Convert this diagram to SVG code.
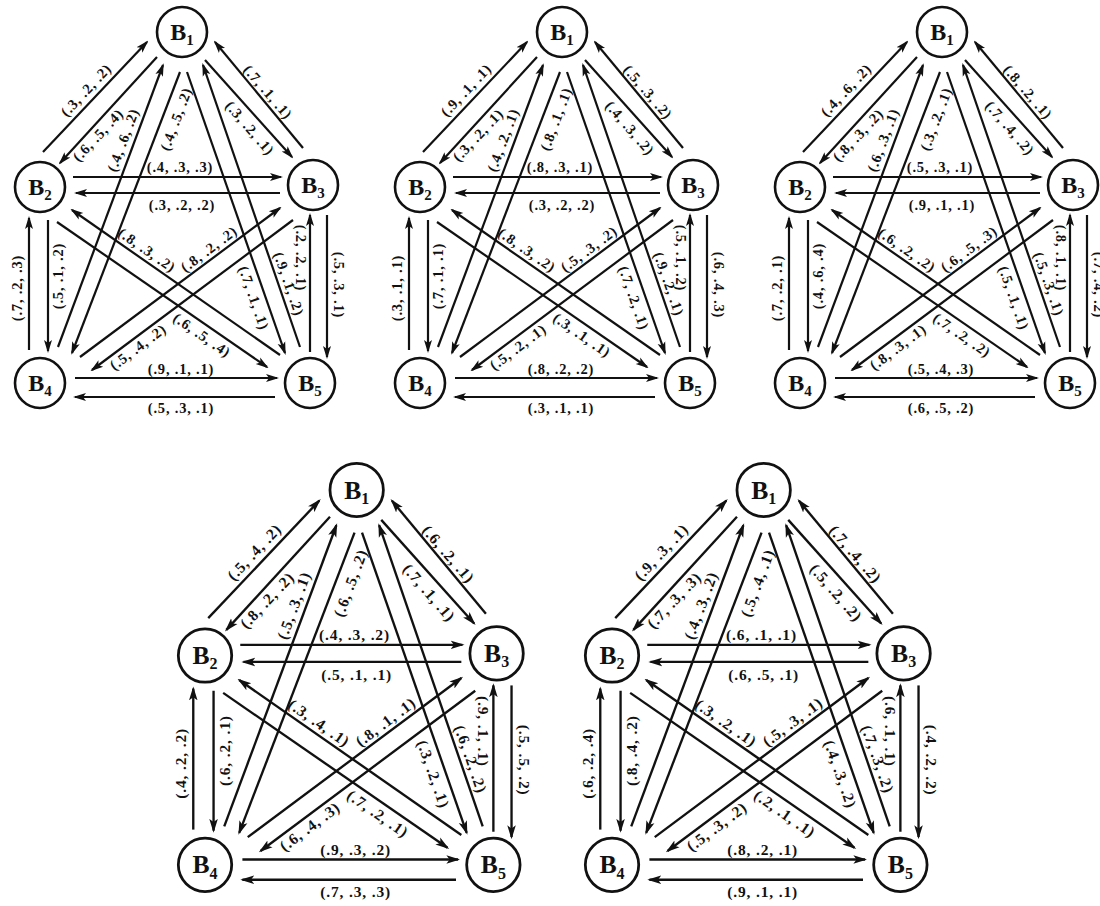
<svg xmlns="http://www.w3.org/2000/svg" width="1100" height="906" viewBox="0 0 1100 906">
<style>
.e{fill:none;stroke:#111;stroke-width:2.2;marker-end:url(#ah)}
.n circle{fill:#fff;stroke:#111;stroke-width:2.6}
.n text{font-family:"Liberation Serif",serif;font-weight:bold;font-size:24px;fill:#111;text-anchor:middle}
.n tspan{font-size:15px}
.l text{font-family:"Liberation Serif",serif;font-weight:bold;font-size:14.5px;letter-spacing:0.8px;fill:#111;text-anchor:middle;dominant-baseline:central}
</style>
<defs>
<marker id="ah" markerWidth="13" markerHeight="10" refX="11" refY="5" orient="auto" markerUnits="userSpaceOnUse">
<path d="M0,1 L13,5 L0,9 L3,5 z" fill="#111"/>
</marker>
</defs>
<rect width="1100" height="906" fill="#fff"/>

<!-- Graph 1 -->
<g id="graph1">
<g id="g1-connectors">
<path class="e" d="M43,152 L147,42"/><path class="e" d="M157,57 L60,163"/>
<path class="e" d="M205,60 L292,157"/><path class="e" d="M303,148 L215,42"/>
<path class="e" d="M73,177 L281,177"/><path class="e" d="M280,193 L76,193"/>
<path class="e" d="M29,350 L29,218"/><path class="e" d="M48,220 L48,351"/>
<path class="e" d="M310,352 L310,215"/><path class="e" d="M327,215 L327,357"/>
<path class="e" d="M75,378 L277,378"/><path class="e" d="M275,397 L75,397"/>
<path class="e" d="M58,347 L163,65"/><path class="e" d="M180,72 L72,353"/>
<path class="e" d="M187,72 L285,353"/><path class="e" d="M300,347 L203,65"/>
<path class="e" d="M57,222 L267,367"/><path class="e" d="M280,355 L72,210"/>
<path class="e" d="M80,357 L280,208"/><path class="e" d="M293,220 L92,370"/>
</g>
<g id="g1-labels" class="l">
<text x="86" y="90" transform="rotate(-46.6 86 90)">(.3, .2, .2)</text>
<text x="98" y="135" transform="rotate(-46.6 98 135)">(.6, .5, .4)</text>
<text x="268" y="92" transform="rotate(49 268 92)">(.7, .1, .1)</text>
<text x="250" y="128" transform="rotate(49 250 128)">(.3, .2, .1)</text>
<text x="123" y="140" transform="rotate(-69.6 123 140)">(.4, .6, .2)</text>
<text x="176" y="119" transform="rotate(-69.6 176 119)">(.4, .5, .2)</text>
<text x="180" y="167">(.4, .3, .3)</text>
<text x="182" y="205">(.3, .2, .2)</text>
<text x="147" y="250" transform="rotate(34.8 147 250)">(.8, .3, .2)</text>
<text x="209" y="249" transform="rotate(-36.7 209 249)">(.8, .2, .2)</text>
<text x="17" y="288" transform="rotate(-90 17 288)">(.7, .2, .3)</text>
<text x="58" y="276" transform="rotate(-90 58 276)">(.5, .1, .2)</text>
<text x="254" y="298" transform="rotate(70.8 254 298)">(.7, .1, .1)</text>
<text x="289" y="284" transform="rotate(70.8 289 284)">(.9, .1, .2)</text>
<text x="301" y="258" transform="rotate(90 301 258)">(.2, .2, .1)</text>
<text x="339" y="285" transform="rotate(90 339 285)">(.5, .3, .1)</text>
<text x="138" y="347" transform="rotate(-36.7 138 347)">(.5, .4, .2)</text>
<text x="202" y="335" transform="rotate(34.8 202 335)">(.6, .5, .4)</text>
<text x="181" y="369">(.9, .1, .1)</text>
<text x="181" y="408">(.5, .3, .1)</text>
</g>
<g id="g1-B1" class="n"><circle cx="182" cy="32" r="25"/><text x="182" y="40">B<tspan dy="5">1</tspan></text></g>
<g id="g1-B2" class="n"><circle cx="40" cy="187" r="25"/><text x="40" y="195">B<tspan dy="5">2</tspan></text></g>
<g id="g1-B3" class="n"><circle cx="313" cy="185" r="25"/><text x="313" y="193">B<tspan dy="5">3</tspan></text></g>
<g id="g1-B4" class="n"><circle cx="40" cy="383" r="25"/><text x="40" y="391">B<tspan dy="5">4</tspan></text></g>
<g id="g1-B5" class="n"><circle cx="310" cy="383" r="25"/><text x="310" y="391">B<tspan dy="5">5</tspan></text></g>
</g>

<!-- Graph 2 -->
<g id="graph2" transform="translate(380,0)">
<g id="g2-connectors">
<path class="e" d="M43,152 L147,42"/><path class="e" d="M157,57 L60,163"/>
<path class="e" d="M205,60 L292,157"/><path class="e" d="M303,148 L215,42"/>
<path class="e" d="M73,177 L281,177"/><path class="e" d="M280,193 L76,193"/>
<path class="e" d="M29,350 L29,218"/><path class="e" d="M48,220 L48,351"/>
<path class="e" d="M310,352 L310,215"/><path class="e" d="M327,215 L327,357"/>
<path class="e" d="M75,378 L277,378"/><path class="e" d="M275,397 L75,397"/>
<path class="e" d="M58,347 L163,65"/><path class="e" d="M180,72 L72,353"/>
<path class="e" d="M187,72 L285,353"/><path class="e" d="M300,347 L203,65"/>
<path class="e" d="M57,222 L267,367"/><path class="e" d="M280,355 L72,210"/>
<path class="e" d="M80,357 L280,208"/><path class="e" d="M293,220 L92,370"/>
</g>
<g id="g2-labels" class="l">
<text x="86" y="90" transform="rotate(-46.6 86 90)">(.9, .1, .1)</text>
<text x="98" y="135" transform="rotate(-46.6 98 135)">(.3, .2, .1)</text>
<text x="268" y="92" transform="rotate(49 268 92)">(.5, .3, .2)</text>
<text x="250" y="128" transform="rotate(49 250 128)">(.4, .3, .2)</text>
<text x="123" y="140" transform="rotate(-69.6 123 140)">(.4, .2, .1)</text>
<text x="176" y="119" transform="rotate(-69.6 176 119)">(.8, .1, .1)</text>
<text x="180" y="167">(.8, .3, .1)</text>
<text x="182" y="205">(.3, .2, .2)</text>
<text x="147" y="250" transform="rotate(34.8 147 250)">(.8, .3, .2)</text>
<text x="209" y="249" transform="rotate(-36.7 209 249)">(.5, .3, .2)</text>
<text x="17" y="288" transform="rotate(-90 17 288)">(.3, .1, .1)</text>
<text x="58" y="276" transform="rotate(-90 58 276)">(.7, .1, .1)</text>
<text x="254" y="298" transform="rotate(70.8 254 298)">(.7, .2, .1)</text>
<text x="289" y="284" transform="rotate(70.8 289 284)">(.9, .2, .1)</text>
<text x="301" y="258" transform="rotate(90 301 258)">(.5, .1, .2)</text>
<text x="339" y="285" transform="rotate(90 339 285)">(.6, .4, .3)</text>
<text x="138" y="347" transform="rotate(-36.7 138 347)">(.5, .2, .1)</text>
<text x="202" y="335" transform="rotate(34.8 202 335)">(.3, .1, .1)</text>
<text x="181" y="369">(.8, .2, .2)</text>
<text x="181" y="408">(.3, .1, .1)</text>
</g>
<g id="g2-B1" class="n"><circle cx="182" cy="32" r="25"/><text x="182" y="40">B<tspan dy="5">1</tspan></text></g>
<g id="g2-B2" class="n"><circle cx="40" cy="187" r="25"/><text x="40" y="195">B<tspan dy="5">2</tspan></text></g>
<g id="g2-B3" class="n"><circle cx="313" cy="185" r="25"/><text x="313" y="193">B<tspan dy="5">3</tspan></text></g>
<g id="g2-B4" class="n"><circle cx="40" cy="383" r="25"/><text x="40" y="391">B<tspan dy="5">4</tspan></text></g>
<g id="g2-B5" class="n"><circle cx="310" cy="383" r="25"/><text x="310" y="391">B<tspan dy="5">5</tspan></text></g>
</g>

<!-- Graph 3 -->
<g id="graph3" transform="translate(760,0)">
<g id="g3-connectors">
<path class="e" d="M43,152 L147,42"/><path class="e" d="M157,57 L60,163"/>
<path class="e" d="M205,60 L292,157"/><path class="e" d="M303,148 L215,42"/>
<path class="e" d="M73,177 L281,177"/><path class="e" d="M280,193 L76,193"/>
<path class="e" d="M29,350 L29,218"/><path class="e" d="M48,220 L48,351"/>
<path class="e" d="M310,352 L310,215"/><path class="e" d="M327,215 L327,357"/>
<path class="e" d="M75,378 L277,378"/><path class="e" d="M275,397 L75,397"/>
<path class="e" d="M58,347 L163,65"/><path class="e" d="M180,72 L72,353"/>
<path class="e" d="M187,72 L285,353"/><path class="e" d="M300,347 L203,65"/>
<path class="e" d="M57,222 L267,367"/><path class="e" d="M280,355 L72,210"/>
<path class="e" d="M80,357 L280,208"/><path class="e" d="M293,220 L92,370"/>
</g>
<g id="g3-labels" class="l">
<text x="86" y="90" transform="rotate(-46.6 86 90)">(.4, .6, .2)</text>
<text x="98" y="135" transform="rotate(-46.6 98 135)">(.8, .3, .2)</text>
<text x="268" y="92" transform="rotate(49 268 92)">(.8, .2, .1)</text>
<text x="250" y="128" transform="rotate(49 250 128)">(.7, .4, .2)</text>
<text x="123" y="140" transform="rotate(-69.6 123 140)">(.6, .3, .1)</text>
<text x="176" y="119" transform="rotate(-69.6 176 119)">(.3, .2, .1)</text>
<text x="180" y="167">(.5, .3, .1)</text>
<text x="182" y="205">(.9, .1, .1)</text>
<text x="147" y="250" transform="rotate(34.8 147 250)">(.6, .2, .2)</text>
<text x="209" y="249" transform="rotate(-36.7 209 249)">(.6, .5, .3)</text>
<text x="17" y="288" transform="rotate(-90 17 288)">(.7, .2, .1)</text>
<text x="58" y="276" transform="rotate(-90 58 276)">(.4, .6, .4)</text>
<text x="254" y="298" transform="rotate(70.8 254 298)">(.5, .1, .1)</text>
<text x="289" y="284" transform="rotate(70.8 289 284)">(.5, .3, .1)</text>
<text x="301" y="258" transform="rotate(90 301 258)">(.8, .1, .1)</text>
<text x="339" y="285" transform="rotate(90 339 285)">(.7, .4, .2)</text>
<text x="138" y="347" transform="rotate(-36.7 138 347)">(.8, .3, .1)</text>
<text x="202" y="335" transform="rotate(34.8 202 335)">(.7, .2, .2)</text>
<text x="181" y="369">(.5, .4, .3)</text>
<text x="181" y="408">(.6, .5, .2)</text>
</g>
<g id="g3-B1" class="n"><circle cx="182" cy="32" r="25"/><text x="182" y="40">B<tspan dy="5">1</tspan></text></g>
<g id="g3-B2" class="n"><circle cx="40" cy="187" r="25"/><text x="40" y="195">B<tspan dy="5">2</tspan></text></g>
<g id="g3-B3" class="n"><circle cx="313" cy="185" r="25"/><text x="313" y="193">B<tspan dy="5">3</tspan></text></g>
<g id="g3-B4" class="n"><circle cx="40" cy="383" r="25"/><text x="40" y="391">B<tspan dy="5">4</tspan></text></g>
<g id="g3-B5" class="n"><circle cx="310" cy="383" r="25"/><text x="310" y="391">B<tspan dy="5">5</tspan></text></g>
</g>

<!-- Graph 4 -->
<g id="graph4" transform="translate(162.3,455.8) scale(1.068)">
<g id="g4-connectors">
<path class="e" d="M43,152 L147,42"/><path class="e" d="M157,57 L60,163"/>
<path class="e" d="M205,60 L292,157"/><path class="e" d="M303,148 L215,42"/>
<path class="e" d="M73,177 L281,177"/><path class="e" d="M280,193 L76,193"/>
<path class="e" d="M29,350 L29,218"/><path class="e" d="M48,220 L48,351"/>
<path class="e" d="M310,352 L310,215"/><path class="e" d="M327,215 L327,357"/>
<path class="e" d="M75,378 L277,378"/><path class="e" d="M275,397 L75,397"/>
<path class="e" d="M58,347 L163,65"/><path class="e" d="M180,72 L72,353"/>
<path class="e" d="M187,72 L285,353"/><path class="e" d="M300,347 L203,65"/>
<path class="e" d="M57,222 L267,367"/><path class="e" d="M280,355 L72,210"/>
<path class="e" d="M80,357 L280,208"/><path class="e" d="M293,220 L92,370"/>
</g>
<g id="g4-labels" class="l">
<text x="86" y="90" transform="rotate(-46.6 86 90)">(.5, .4, .2)</text>
<text x="98" y="135" transform="rotate(-46.6 98 135)">(.8, .2, .2)</text>
<text x="268" y="92" transform="rotate(49 268 92)">(.6, .2, .1)</text>
<text x="250" y="128" transform="rotate(49 250 128)">(.7, .1, .1)</text>
<text x="123" y="140" transform="rotate(-69.6 123 140)">(.5, .3, .1)</text>
<text x="176" y="119" transform="rotate(-69.6 176 119)">(.6, .5, .2)</text>
<text x="180" y="167">(.4, .3, .2)</text>
<text x="182" y="205">(.5, .1, .1)</text>
<text x="147" y="250" transform="rotate(34.8 147 250)">(.3, .4, .1)</text>
<text x="209" y="249" transform="rotate(-36.7 209 249)">(.8, .1, .1)</text>
<text x="17" y="288" transform="rotate(-90 17 288)">(.4, .2, .2)</text>
<text x="58" y="276" transform="rotate(-90 58 276)">(.6, .2, .1)</text>
<text x="254" y="298" transform="rotate(70.8 254 298)">(.3, .2, .1)</text>
<text x="289" y="284" transform="rotate(70.8 289 284)">(.6, .2, .2)</text>
<text x="301" y="258" transform="rotate(90 301 258)">(.9, .1, .1)</text>
<text x="339" y="285" transform="rotate(90 339 285)">(.5, .5, .2)</text>
<text x="138" y="347" transform="rotate(-36.7 138 347)">(.6, .4, .3)</text>
<text x="202" y="335" transform="rotate(34.8 202 335)">(.7, .2, .1)</text>
<text x="181" y="369">(.9, .3, .2)</text>
<text x="181" y="408">(.7, .3, .3)</text>
</g>
<g id="g4-B1" class="n"><circle cx="182" cy="32" r="25"/><text x="182" y="40">B<tspan dy="5">1</tspan></text></g>
<g id="g4-B2" class="n"><circle cx="40" cy="187" r="25"/><text x="40" y="195">B<tspan dy="5">2</tspan></text></g>
<g id="g4-B3" class="n"><circle cx="313" cy="185" r="25"/><text x="313" y="193">B<tspan dy="5">3</tspan></text></g>
<g id="g4-B4" class="n"><circle cx="40" cy="383" r="25"/><text x="40" y="391">B<tspan dy="5">4</tspan></text></g>
<g id="g4-B5" class="n"><circle cx="310" cy="383" r="25"/><text x="310" y="391">B<tspan dy="5">5</tspan></text></g>
</g>

<!-- Graph 5 -->
<g id="graph5" transform="translate(569.3,455.8) scale(1.068)">
<g id="g5-connectors">
<path class="e" d="M43,152 L147,42"/><path class="e" d="M157,57 L60,163"/>
<path class="e" d="M205,60 L292,157"/><path class="e" d="M303,148 L215,42"/>
<path class="e" d="M73,177 L281,177"/><path class="e" d="M280,193 L76,193"/>
<path class="e" d="M29,350 L29,218"/><path class="e" d="M48,220 L48,351"/>
<path class="e" d="M310,352 L310,215"/><path class="e" d="M327,215 L327,357"/>
<path class="e" d="M75,378 L277,378"/><path class="e" d="M275,397 L75,397"/>
<path class="e" d="M58,347 L163,65"/><path class="e" d="M180,72 L72,353"/>
<path class="e" d="M187,72 L285,353"/><path class="e" d="M300,347 L203,65"/>
<path class="e" d="M57,222 L267,367"/><path class="e" d="M280,355 L72,210"/>
<path class="e" d="M80,357 L280,208"/><path class="e" d="M293,220 L92,370"/>
</g>
<g id="g5-labels" class="l">
<text x="86" y="90" transform="rotate(-46.6 86 90)">(.9, .3, .1)</text>
<text x="98" y="135" transform="rotate(-46.6 98 135)">(.7, .3, .3)</text>
<text x="268" y="92" transform="rotate(49 268 92)">(.7, .4, .2)</text>
<text x="250" y="128" transform="rotate(49 250 128)">(.5, .2, .2)</text>
<text x="123" y="140" transform="rotate(-69.6 123 140)">(.4, .3, .2)</text>
<text x="176" y="119" transform="rotate(-69.6 176 119)">(.5, .4, .1)</text>
<text x="180" y="167">(.6, .1, .1)</text>
<text x="182" y="205">(.6, .5, .1)</text>
<text x="147" y="250" transform="rotate(34.8 147 250)">(.3, .2, .1)</text>
<text x="209" y="249" transform="rotate(-36.7 209 249)">(.5, .3, .1)</text>
<text x="17" y="288" transform="rotate(-90 17 288)">(.6, .2, .4)</text>
<text x="58" y="276" transform="rotate(-90 58 276)">(.8, .4, .2)</text>
<text x="254" y="298" transform="rotate(70.8 254 298)">(.4, .3, .2)</text>
<text x="289" y="284" transform="rotate(70.8 289 284)">(.7, .3, .2)</text>
<text x="301" y="258" transform="rotate(90 301 258)">(.6, .1, .1)</text>
<text x="339" y="285" transform="rotate(90 339 285)">(.4, .2, .2)</text>
<text x="138" y="347" transform="rotate(-36.7 138 347)">(.5, .3, .2)</text>
<text x="202" y="335" transform="rotate(34.8 202 335)">(.2, .1, .1)</text>
<text x="181" y="369">(.8, .2, .1)</text>
<text x="181" y="408">(.9, .1, .1)</text>
</g>
<g id="g5-B1" class="n"><circle cx="182" cy="32" r="25"/><text x="182" y="40">B<tspan dy="5">1</tspan></text></g>
<g id="g5-B2" class="n"><circle cx="40" cy="187" r="25"/><text x="40" y="195">B<tspan dy="5">2</tspan></text></g>
<g id="g5-B3" class="n"><circle cx="313" cy="185" r="25"/><text x="313" y="193">B<tspan dy="5">3</tspan></text></g>
<g id="g5-B4" class="n"><circle cx="40" cy="383" r="25"/><text x="40" y="391">B<tspan dy="5">4</tspan></text></g>
<g id="g5-B5" class="n"><circle cx="310" cy="383" r="25"/><text x="310" y="391">B<tspan dy="5">5</tspan></text></g>
</g>
</svg>
